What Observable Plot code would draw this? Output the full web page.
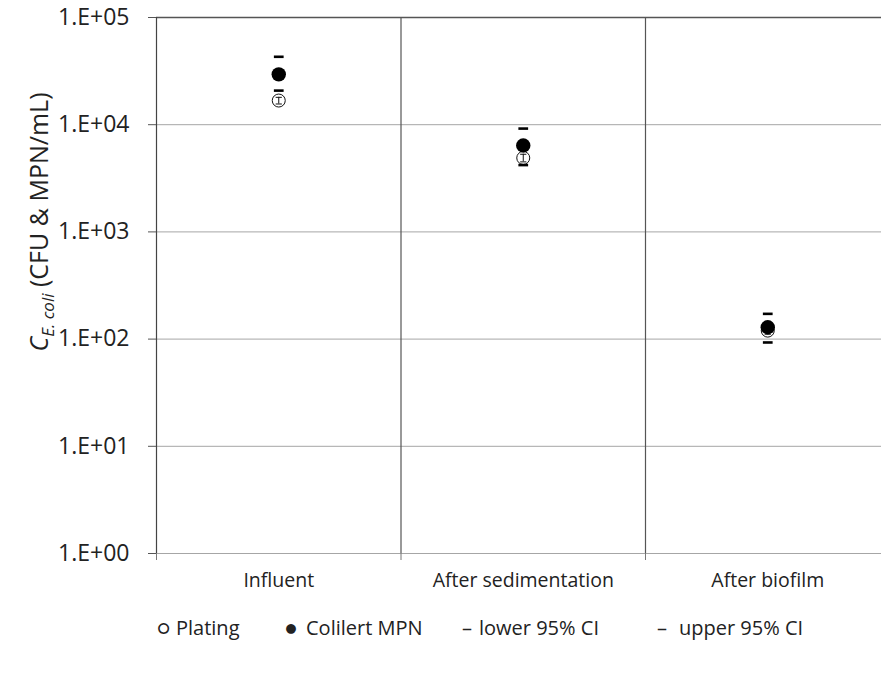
<!DOCTYPE html>
<html>
<head>
<meta charset="utf-8">
<script src="https://cdn.jsdelivr.net/npm/d3@7"></script>
<script src="https://cdn.jsdelivr.net/npm/@observablehq/plot@0.6"></script>
<style>
  html, body { margin: 0; padding: 0; background: #fff; overflow: hidden; }
  #wrap { position: relative; width: 881px; height: 675px; font-family: "Open Sans", Lato, sans-serif; color: #222; }
  #legend { position: absolute; top: 613px; left: 0; width: 881px; height: 30px; font-size: 20px; line-height: 30px; }
  #legend span { position: absolute; white-space: nowrap; }
</style>
</head>
<body>
<div id="wrap">
  <div id="chart"></div>
  <div id="legend">
    <span style="left:157px">○</span><span style="left:176px">Plating</span>
    <span style="left:285px">●</span><span style="left:306px">Colilert MPN</span>
    <span style="left:462px">–</span><span style="left:479px">lower 95% CI</span>
    <span style="left:657px">–</span><span style="left:679px">upper 95% CI</span>
  </div>
</div>
<script>
// Treatment stages along the x axis
const categories = ["Influent", "After sedimentation", "After biofilm"];

// E. coli concentrations (CFU/mL for plating, MPN/mL for Colilert)
const plating = [16800, 4900, 120];
const platingLow = [15600, 4500, 111];
const platingHigh = [18000, 5300, 130];
const colilert = [29500, 6400, 129];
const lower95 = [20800, 4200, 93];
const upper95 = [43000, 9200, 172];

// Decade ticks on the log axis
const yTicks = [1, 10, 100, 1000, 10000, 100000];

const rows = categories.map((c, i) => ({
  x: i + 0.5,
  stage: c,
  plating: plating[i],
  platingLow: platingLow[i],
  platingHigh: platingHigh[i],
  colilert: colilert[i],
  lower: lower95[i],
  upper: upper95[i]
}));

// Short horizontal bar used for the confidence limits
const dash = {
  draw(context, size) {
    const w = Math.sqrt(size) * 0.55, h = 1.3;
    context.rect(-w, -h, 2 * w, 2 * h);
  }
};
const cap = {
  draw(context, size) {
    const w = Math.sqrt(size) * 0.5;
    context.moveTo(-w, 0);
    context.lineTo(w, 0);
  }
};

const sep = [1, 2];

const chart = Plot.plot({
  width: 881,
  height: 600,
  marginLeft: 156,
  marginRight: 0,
  marginTop: 17,
  marginBottom: 47,
  style: { fontFamily: "'Open Sans', Lato, sans-serif", color: "#222", overflow: "visible" },
  x: { type: "linear", domain: [0, 3], range: [156, 889.5] },
  y: { type: "log", domain: [1, 100000], range: [553, 17] },
  marks: [
    Plot.ruleY(yTicks.slice(0, -1), { stroke: "#a6a6a6", strokeWidth: 1 }),
    Plot.ruleY([100000], { stroke: "#555", strokeWidth: 1.3 }),
    Plot.ruleX(sep, { stroke: "#555", strokeWidth: 1.2 }),
    Plot.ruleX([0], { stroke: "#444", strokeWidth: 1.2 }),
    Plot.axisY({
      ticks: yTicks,
      tickSize: 8,
      tickPadding: 19,
      tickFormat: d => "1.E+0" + Math.round(Math.log10(d)),
      fontSize: 23,
      stroke: "#555",
      label: null
    }),
    Plot.axisX({ ticks: [0, 1, 2], tickSize: 7, tickFormat: () => "", stroke: "#777", label: null }),
    Plot.axisX({
      ticks: [0.5, 1.5, 2.5],
      tickSize: 0,
      tickPadding: 20,
      tickFormat: d => categories[Math.round(d - 0.5)],
      fontSize: 19.5,
      label: null
    }),
    // Plating: open circles with their own narrow error bars
    Plot.dot(rows, { x: "x", y: "plating", r: 6.5, fill: "white", stroke: "#111", strokeWidth: 1 }),
    Plot.ruleX(rows, { x: "x", y1: "platingLow", y2: "platingHigh", stroke: "#111", strokeWidth: 1 }),
    Plot.dot(rows, { x: "x", y: "platingLow", symbol: cap, r: 3.5, stroke: "#111", strokeWidth: 1 }),
    Plot.dot(rows, { x: "x", y: "platingHigh", symbol: cap, r: 3.5, stroke: "#111", strokeWidth: 1 }),
    // Colilert MPN: filled dots
    Plot.dot(rows, { x: "x", y: "colilert", r: 7.2, fill: "#000", stroke: "none" }),
    // 95% confidence limits
    Plot.dot(rows, { x: "x", y: "lower", symbol: dash, r: 5, fill: "#000", stroke: "none" }),
    Plot.dot(rows, { x: "x", y: "upper", symbol: dash, r: 5, fill: "#000", stroke: "none" })
  ]
});

document.getElementById("chart").append(chart);

// Y axis title with italic subscript
const t = d3.select(chart).append("text")
  .attr("transform", "translate(48,222) rotate(-90)")
  .attr("text-anchor", "middle")
  .attr("fill", "#222")
  .style("font-size", "25px");
t.append("tspan").attr("font-style", "italic").text("C");
t.append("tspan").attr("font-style", "italic").attr("font-size", "17px").attr("dy", "6").text("E. coli");
t.append("tspan").attr("dy", "-6").text(" (CFU & MPN/mL)");
</script>
</body>
</html>
